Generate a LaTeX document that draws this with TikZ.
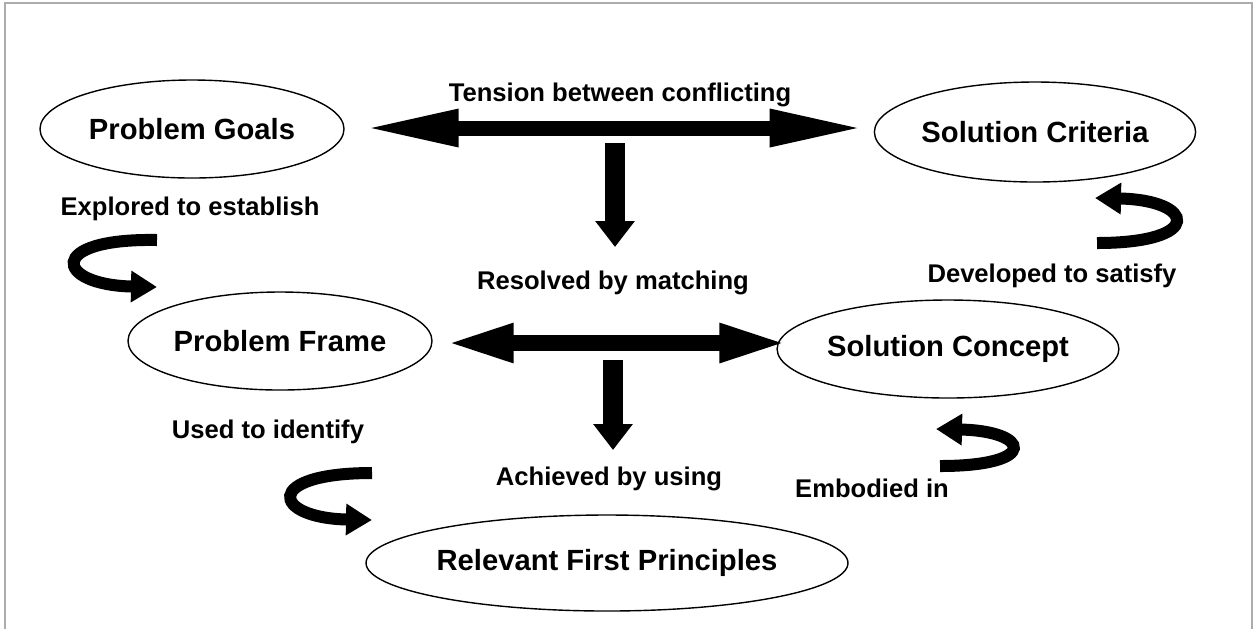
\documentclass[tikz,border=0pt]{standalone}
\usepackage{fontspec}
\setmainfont{Liberation Sans}
\usetikzlibrary{arrows.meta, positioning, calc, shapes.geometric}

\begin{document}
\begin{tikzpicture}[
    x=0.5pt, y=-0.5pt,
    font=\bfseries,
    goal/.style={ellipse, draw, line width=0.7pt, inner sep=0pt,
                 minimum width=152pt, minimum height=49pt,
                 font=\bfseries\fontsize{14.6}{17}\selectfont},
    lbl/.style={inner sep=0pt, font=\bfseries\fontsize{12.8}{15}\selectfont},
    dbl/.style={line width=7.5pt, {Triangle[length=48pt, width=17pt]}-{Triangle[length=48pt, width=17pt]}},
    dbls/.style={line width=8pt, {Triangle[length=34.5pt, width=17.5pt]}-{Triangle[length=34.5pt, width=17.5pt]}},
    downarr/.style={line width=9.8pt, -{Triangle[length=13pt, width=19pt]}},
    loop/.style={line width=6pt, -{Triangle[length=13pt, width=15pt]}}
  ]
    \useasboundingbox (0,0) rectangle (1257,629);
    \draw[gray!65, line width=1pt] (5,629) -- (5,3) -- (1252,3) -- (1252,629);

    \node[goal, minimum width=152pt] (pg) at (192,129) {Problem Goals};
    \node[goal, minimum width=151pt, minimum height=50pt] (sc) at (1035,132) {Solution Criteria};
    \node[goal] (pf) at (280,341) {Problem Frame};
    \node[goal] (scn) at (948,349) {Solution Concept};
    \node[goal, minimum width=210pt, minimum height=48pt] (rfp) at (607,563) {Relevant First Principles};

    \node[lbl] (tens) at (620,95) {Tension between conflicting};
    \node[lbl] (expl) at (190,209) {Explored to establish};
    \node[lbl] (res) at (613,283) {Resolved by matching};
    \node[lbl] (dev) at (1052,276) {Developed to satisfy};
    \node[lbl] (used) at (268,432) {Used to identify};
    \node[lbl] (ach) at (609,479) {Achieved by using};
    \node[lbl] (emb) at (872,488) {Embodied in};

    \coordinate (mid1) at (615,128);
    \coordinate (mid2) at (613,343);

    \draw[dbl, shorten <=9pt, shorten >=4pt] (pg.east |- mid1) -- (sc.west |- mid1);
    \draw[dbls, shorten <=6pt, shorten >=-6pt] (pf.east |- mid2) -- (scn.west |- mid2);
    \draw[downarr, shorten <=7.5pt] (mid1) -- (mid1 |- 0,247);
    \draw[downarr, shorten <=8.5pt] (mid2) -- (mid2 |- 0,450);

    \coordinate (l1a) at (157,240);
    \coordinate (l1b) at (157,287);
    \coordinate (l2a) at (1097,243);
    \coordinate (l2b) at (1095,198);
    \coordinate (l3a) at (372,473);
    \coordinate (l3b) at (372,520);
    \coordinate (l4a) at (940,466);
    \coordinate (l4b) at (936,429);

    \draw[loop] (l1a) .. controls (45,238) and (55,285) .. (l1b);
    \draw[loop] (l2a) .. controls (1205,243) and (1195,200) .. (l2b);
    \draw[loop] (l3a) .. controls (262,473) and (272,518) .. (l3b);
    \draw[loop] (l4a) .. controls (1040,466) and (1030,431) .. (l4b);
  \end{tikzpicture}
\end{document}
